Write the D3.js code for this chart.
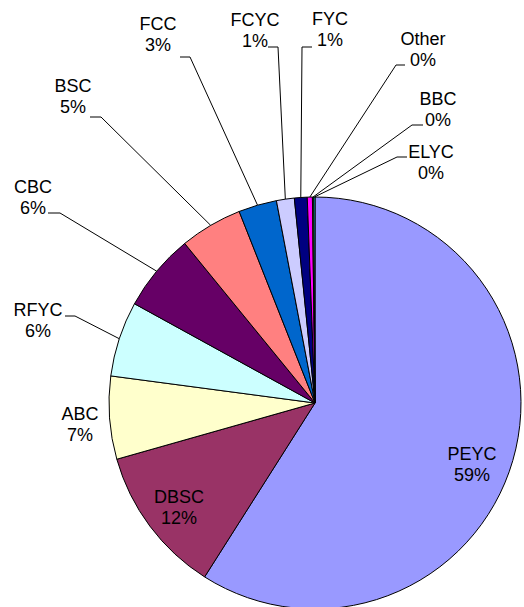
<!DOCTYPE html>
<html>
<head>
<meta charset="utf-8">
<script src="https://cdn.jsdelivr.net/npm/d3@7"></script>
<style>
	body { margin: 0; background: #fff; }
	svg { display: block; }
	text { font-family: "Liberation Sans", Arial, sans-serif; font-size: 18px; fill: #000; }
</style>
</head>
<body>
<div id="chart"></div>
<script>
// slice data, clockwise from 12 o'clock
var names = ["PEYC", "DBSC", "ABC", "RFYC", "CBC", "BSC", "FCC", "FCYC", "FYC", "Other", "BBC", "ELYC"];
var shares = [59.0, 11.6, 6.5, 5.9, 6.1, 4.9, 3.0, 1.4, 1.0, 0.4, 0.1, 0.1];
var colors = ["#9999ff", "#993366", "#ffffcc", "#ccffff", "#660066", "#ff8080", "#0066cc", "#ccccff", "#000080", "#ff00ff", "#ffff00", "#00ffff"];

// label placement (text centre x, first baseline y) and leader knee/stub, by slice name
var labelPos = {
	PEYC: [472, 460], DBSC: [179, 503], ABC: [80, 420], RFYC: [38, 316],
	CBC: [33, 193], BSC: [73, 92], FCC: [158, 30], FCYC: [255, 26],
	FYC: [330, 25], Other: [423, 45], BBC: [438, 105], ELYC: [431, 158]
};
var leaders = {
	RFYC: [65, 75, 316], CBC: [48, 60, 213], BSC: [90, 101, 117],
	FCC: [180, 190, 57], FCYC: [268, 278, 47], FYC: [312, 302, 47],
	Other: [405, 396, 65], BBC: [423, 412, 125], ELYC: [407, 397, 157]
};

var width = 524, height = 607;
var cx = 315, cy = 403, radius = 206;

var total = d3.sum(shares);
var data = names.map((n, i) => ({name: n, value: shares[i], color: colors[i]}));

var svg = d3.select("#chart").append("svg")
	.attr("width", width)
	.attr("height", height);

var plotArea = svg.append("g")
	.attr("transform", `translate(${cx}, ${cy})`);

var pie = d3.pie().sort(null).value(d => d.value);
var arcs = pie(data);

var arc = d3.arc().innerRadius(0).outerRadius(radius);
var edge = d3.arc().innerRadius(radius).outerRadius(radius);

plotArea.selectAll("path.slice")
	.data(arcs)
	.enter()
	.append("path")
	.attr("class", "slice")
	.attr("d", arc)
	.style("fill", d => d.data.color)
	.style("stroke", "#000")
	.style("stroke-width", 1);

// leader lines: stub beside label, then straight to the slice edge
var withLeader = arcs.filter(d => leaders[d.data.name]);
svg.selectAll("polyline.leader")
	.data(withLeader)
	.enter()
	.append("polyline")
	.attr("class", "leader")
	.attr("points", function(d) {
		var l = leaders[d.data.name];
		var p = edge.centroid(d);
		return [[l[0], l[2]], [l[1], l[2]], [p[0] + cx, p[1] + cy]].join(" ");
	})
	.style("fill", "none")
	.style("stroke", "#000")
	.style("stroke-width", 1);

var labels = svg.selectAll("text.label")
	.data(arcs)
	.enter()
	.append("text")
	.attr("class", "label")
	.attr("text-anchor", "middle")
	.attr("transform", d => `translate(${labelPos[d.data.name]})`);

labels.append("tspan")
	.attr("x", 0)
	.attr("y", 0)
	.text(d => d.data.name);

labels.append("tspan")
	.attr("x", 0)
	.attr("y", 21)
	.text(d => Math.round(d.data.value / total * 100) + "%");
</script>
</body>
</html>
